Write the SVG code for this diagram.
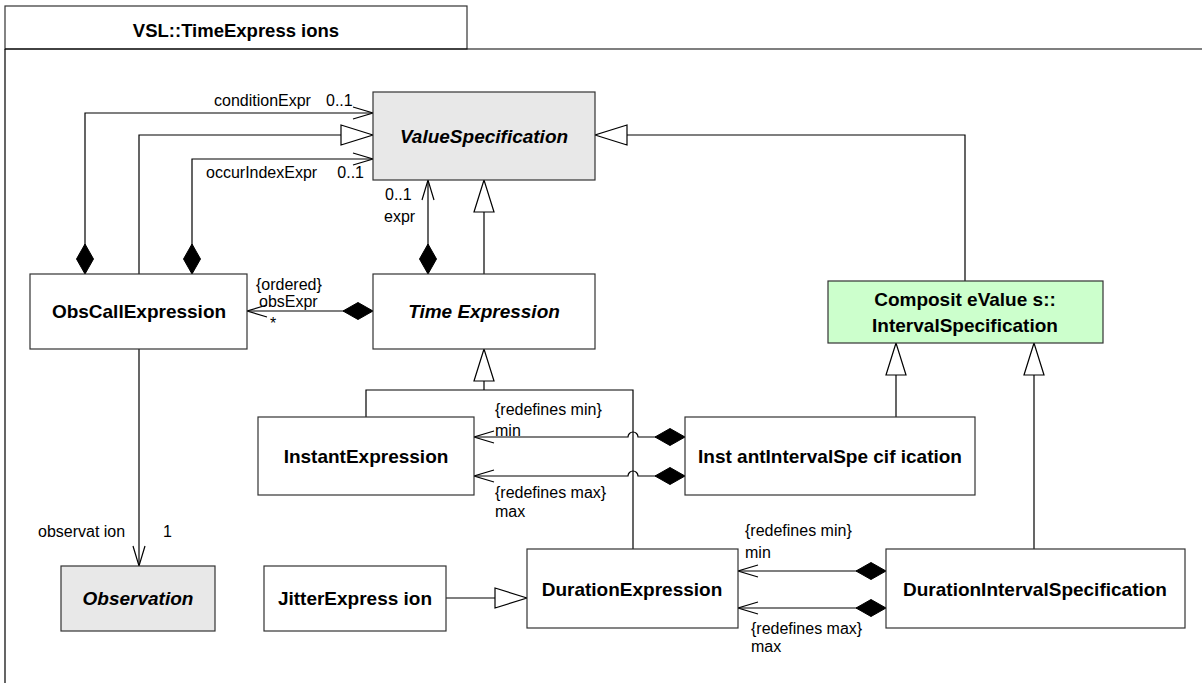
<svg xmlns="http://www.w3.org/2000/svg" width="1202" height="683" viewBox="0 0 1202 683">
<style>
.box{fill:#ffffff;stroke:#333333;stroke-width:1.2}
.gray{fill:#e8e8e8}
.green{fill:#ccffcc}
.name{font-family:"Liberation Sans",Arial,sans-serif;font-size:19px;font-weight:bold;text-anchor:middle;fill:#000}
.abs{font-style:italic}
.lbl{font-family:"Liberation Sans",Arial,sans-serif;font-size:16px;fill:#000}
.ln{fill:none;stroke:#000;stroke-width:1.2}
</style>
<defs>
<marker id="open" viewBox="-22 -8 24 16" refX="0" refY="0" markerWidth="24" markerHeight="16" markerUnits="userSpaceOnUse" orient="auto" overflow="visible">
<path d="M-20,-6 L0,0 L-20,6" fill="none" stroke="#000" stroke-width="1.2"/>
</marker>
<marker id="tri" viewBox="-34 -12 36 24" refX="0" refY="0" markerWidth="36" markerHeight="24" markerUnits="userSpaceOnUse" orient="auto" overflow="visible">
<path d="M0,0 L-32,-10 L-32,10 Z" fill="#fff" stroke="#000" stroke-width="1.2"/>
</marker>
<marker id="dia" viewBox="-2 -10 34 20" refX="0" refY="0" markerWidth="34" markerHeight="20" markerUnits="userSpaceOnUse" orient="auto" overflow="visible">
<path d="M0,0 L15,-8.5 L30,0 L15,8.5 Z" fill="#000" stroke="#000" stroke-width="1"/>
</marker>
</defs>
<rect width="1202" height="683" fill="#fff"/>
<g id="frame">
<rect x="5" y="6" width="462" height="43" fill="#fff" stroke="#333" stroke-width="1.2"/>
<path d="M5,49 H1202 M5,49 V683" class="ln"/>
<text x="236" y="37" class="name" style="font-size:18.5px">VSL::TimeExpress ions</text>
</g>
<g id="connectors">
<path d="M85,274 V113 H373" class="ln" marker-start="url(#dia)" marker-end="url(#open)"/>
<path d="M139,274 V135 H373" class="ln" marker-end="url(#tri)"/>
<path d="M192,274 V159 H373" class="ln" marker-start="url(#dia)" marker-end="url(#open)"/>
<path d="M428,274 V180" class="ln" marker-start="url(#dia)" marker-end="url(#open)"/>
<path d="M484,274 V180" class="ln" marker-end="url(#tri)"/>
<path d="M965,281 V135 H595" class="ln" marker-end="url(#tri)"/>
<path d="M373,311 H247" class="ln" marker-start="url(#dia)" marker-end="url(#open)"/>
<path d="M484,390 V349" class="ln" marker-end="url(#tri)"/>
<path d="M366,417 V390 H633 V549" class="ln"/>
<path d="M685,437 H638 A5,5 0 0 0 628,437 H474" class="ln" marker-start="url(#dia)" marker-end="url(#open)"/>
<path d="M685,476 H638 A5,5 0 0 0 628,476 H474" class="ln" marker-start="url(#dia)" marker-end="url(#open)"/>
<path d="M896,417 V343" class="ln" marker-end="url(#tri)"/>
<path d="M1034,549 V343" class="ln" marker-end="url(#tri)"/>
<path d="M886,571 H738" class="ln" marker-start="url(#dia)" marker-end="url(#open)"/>
<path d="M886,608 H738" class="ln" marker-start="url(#dia)" marker-end="url(#open)"/>
<path d="M446,598 H527" class="ln" marker-end="url(#tri)"/>
<path d="M139,349 V566" class="ln" marker-end="url(#open)"/>
<text x="214" y="106" class="lbl">conditionExpr</text>
<text x="326" y="106" class="lbl">0..1</text>
<text x="206" y="178" class="lbl">occurIndexExpr</text>
<text x="364" y="178" class="lbl" text-anchor="end">0..1</text>
<text x="385" y="200" class="lbl">0..1</text>
<text x="384" y="222" class="lbl">expr</text>
<text x="256" y="290" class="lbl">{ordered}</text>
<text x="259" y="307" class="lbl">obsExpr</text>
<text x="270" y="329" class="lbl">*</text>
<text x="38" y="537" class="lbl">observat ion</text>
<text x="163" y="537" class="lbl">1</text>
<text x="495" y="415" class="lbl">{redefines min}</text>
<text x="495" y="436" class="lbl">min</text>
<text x="495" y="498" class="lbl">{redefines max}</text>
<text x="495" y="517" class="lbl">max</text>
<text x="745" y="536" class="lbl">{redefines min}</text>
<text x="745" y="558" class="lbl">min</text>
<text x="751" y="634" class="lbl">{redefines max}</text>
<text x="751" y="652" class="lbl">max</text>
</g>
<g id="ValueSpecification">
<rect x="373" y="92" width="222" height="88" class="box gray"/>
<text x="484" y="143" class="name abs">ValueSpecification</text>
</g>
<g id="ObsCallExpression">
<rect x="30" y="274" width="217" height="75" class="box"/>
<text x="139" y="318" class="name">ObsCallExpression</text>
</g>
<g id="TimeExpression">
<rect x="373" y="274" width="222" height="75" class="box"/>
<text x="484" y="318" class="name abs">Time Expression</text>
</g>
<g id="IntervalSpecification">
<rect x="828" y="281" width="275" height="62" class="box green"/>
<text x="965" y="306" class="name">Composit eValue s::</text>
<text x="965" y="332" class="name">IntervalSpecification</text>
</g>
<g id="InstantExpression">
<rect x="258" y="417" width="216" height="78" class="box"/>
<text x="366" y="463" class="name">InstantExpression</text>
</g>
<g id="InstantIntervalSpecification">
<rect x="685" y="417" width="290" height="78" class="box"/>
<text x="830" y="463" class="name">Inst antIntervalSpe cif ication</text>
</g>
<g id="Observation">
<rect x="61" y="566" width="154" height="65" class="box gray"/>
<text x="138" y="605" class="name abs">Observation</text>
</g>
<g id="JitterExpression">
<rect x="264" y="566" width="182" height="65" class="box"/>
<text x="355" y="605" class="name">JitterExpress ion</text>
</g>
<g id="DurationExpression">
<rect x="527" y="549" width="211" height="79" class="box"/>
<text x="632" y="596" class="name">DurationExpression</text>
</g>
<g id="DurationIntervalSpecification">
<rect x="886" y="549" width="299" height="79" class="box"/>
<text x="1035" y="596" class="name">DurationIntervalSpecification</text>
</g>
</svg>
